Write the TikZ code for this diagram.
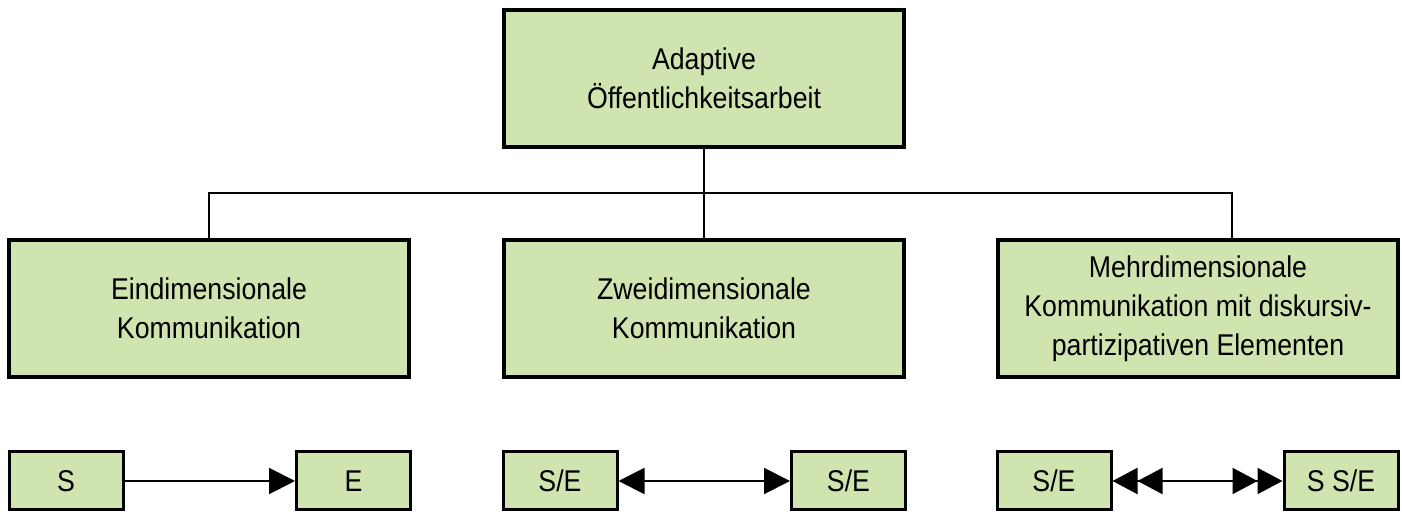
\documentclass[tikz,border=0pt]{standalone}
\usepackage{fontspec}
\setmainfont{Liberation Sans}[FakeStretch=0.89]
\usetikzlibrary{arrows.meta}
\definecolor{boxgreen}{RGB}{207,228,175}
\tikzset{
  bigbox/.style={draw=black, line width=2pt, fill=boxgreen, minimum width=200pt, minimum height=68.5pt, align=center, inner sep=0pt, font=\fontsize{15}{19.5}\selectfont},
  smallbox/.style={draw=black, line width=1.5pt, fill=boxgreen, minimum width=57pt, minimum height=29pt, inner sep=0pt, font=\fontsize{15}{19.5}\selectfont},
  tree/.style={line width=1.2pt},
  onearrow/.style={line width=1pt, -{Triangle[length=13pt,width=13pt]}},
  twoarrow/.style={line width=1pt, {Triangle[length=13pt,width=13pt]}-{Triangle[length=13pt,width=13pt]}},
  dblarrow/.style={line width=1pt, {Triangle[length=12.5pt,width=13pt,sep=0pt]Triangle[length=12.5pt,width=13pt]}-{Triangle[length=12.5pt,width=13pt,sep=0pt]Triangle[length=12.5pt,width=13pt]}}
}
\begin{document}
\begin{tikzpicture}[x=0.5pt,y=-0.5pt]
\useasboundingbox (0,0) rectangle (1402,512);
% main boxes
\node[bigbox] (top) at (704,78.5) {Adaptive\\Öffentlichkeitsarbeit};
\node[bigbox] (left) at (209,308.5) {Eindimensionale\\Kommunikation};
\node[bigbox] (mid) at (704,308.5) {Zweidimensionale\\Kommunikation};
\node[bigbox] (right) at (1198,308.5) {Mehrdimensionale\\Kommunikation mit diskursiv-\\partizipativen Elementen};
% tree connectors
\coordinate (bus) at (704,193);
\coordinate (rj) at ([xshift=17pt]right.north);
\draw[tree] (top.south) -- (mid.north);
\draw[tree] (left.north) |- (bus) -| (rj);
% bottom boxes
\node[smallbox] (s1) at (66,481) {S};
\node[smallbox] (e1) at (353.5,481) {E};
\node[smallbox] (s2) at (560,481) {S/E};
\node[smallbox] (e2) at (848.5,481) {S/E};
\node[smallbox] (s3) at (1054,481) {S/E};
\node[smallbox] (e3) at (1341,481) {S S/E};
% arrows
\draw[onearrow] (s1.east) -- (e1.west);
\draw[twoarrow] (s2.east) -- (e2.west);
\draw[dblarrow] (s3.east) -- (e3.west);
\end{tikzpicture}
\end{document}
